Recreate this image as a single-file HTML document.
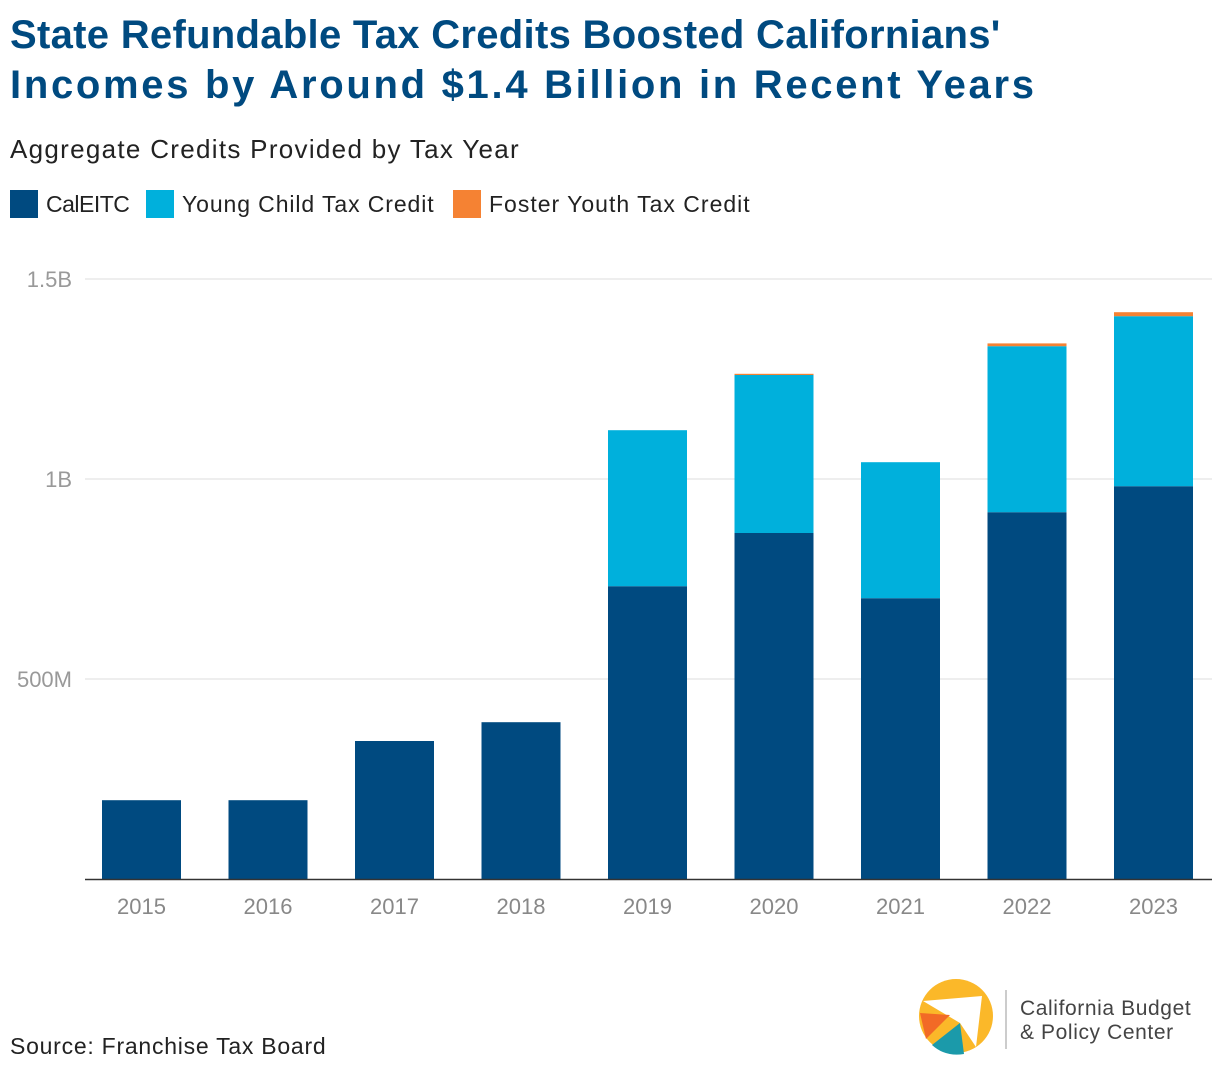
<!DOCTYPE html>
<html><head><meta charset="utf-8"><style>
body{margin:0;background:#fff;font-family:"Liberation Sans",sans-serif;}
#wrap{position:relative;width:1220px;height:1076px;overflow:hidden}
h1{position:absolute;left:10px;top:10px;margin:0;font-size:40px;line-height:50px;color:#004a80;font-weight:bold}
.sub{position:absolute;left:10px;top:134px;font-size:26px;color:#222;letter-spacing:1.3px}
.leg{position:absolute;top:190px;font-size:23px;color:#222;display:flex;align-items:center}
.sw{width:28px;height:28px;margin-right:8px;display:inline-block}
.src{position:absolute;left:10px;top:1033px;font-size:23px;color:#222;letter-spacing:0.75px}
</style></head><body><div id="wrap">
<h1><span style="letter-spacing:0.3px">State Refundable Tax Credits Boosted Californians'</span><br><span style="letter-spacing:2.7px">Incomes by Around $1.4 Billion in Recent Years</span></h1>
<div class="sub">Aggregate Credits Provided by Tax Year</div>
<div class="leg" style="left:10px;letter-spacing:-0.5px"><span class="sw" style="background:#004a80"></span>CalEITC</div>
<div class="leg" style="left:146px;letter-spacing:0.9px"><span class="sw" style="background:#00b0dc"></span>Young Child Tax Credit</div>
<div class="leg" style="left:453px;letter-spacing:1px"><span class="sw" style="background:#f58233"></span>Foster Youth Tax Credit</div>
<svg id="chart" width="1220" height="1076" style="position:absolute;left:0;top:0"></svg>
<div class="src">Source: Franchise Tax Board</div>
<svg width="300" height="90" style="position:absolute;left:910px;top:975px">
<circle cx="46" cy="41" r="37" fill="#fbb829"/>
<path d="M13,26 L72,21 L66,72 L50,48 Z" fill="#fff"/>
<path d="M10,38 L40,40 L16,64 Z" fill="#f26a26"/>
<path d="M22,70 L50,48 L54,79 Q35,82 22,70 Z" fill="#1b9aaa"/>
<line x1="96" y1="15" x2="96" y2="74" stroke="#bbb" stroke-width="1.5"/>
<text x="110" y="40" font-size="21" fill="#444" letter-spacing="0.6" font-family="Liberation Sans">California Budget</text>
<text x="110" y="64" font-size="21" fill="#444" letter-spacing="0.6" font-family="Liberation Sans">&amp; Policy Center</text>
</svg>
</div>
<script>
const years=["2015","2016","2017","2018","2019","2020","2021","2022","2023"];
const calEitc=[197,197,345,392,732,865,702,917,982];
const youngChild=[0,0,0,0,390,395,340,415,425];
const fosterYouth=[0,0,0,0,0,3,0,7,10];
const yTicks=[500,1000,1500];
const yTickLabels=["500M","1B","1.5B"];
const NS="http://www.w3.org/2000/svg";
const svg=document.getElementById('chart');
const y=v=>879-v*0.4;
const xc=i=>141.5+i*126.5;
const bw=79;
function mk(t,a){const e=document.createElementNS(NS,t);for(const k in a)e.setAttribute(k,a[k]);svg.appendChild(e);return e;}
yTicks.forEach((t,i)=>{
 const g=mk('line',{x1:85,x2:1212,y1:y(t),y2:y(t),stroke:'#ddd','stroke-width':1});
 
 
 const l=mk('text',{x:72,y:y(t)+8,'text-anchor':'end','font-size':22,fill:'#999','font-family':'Liberation Sans'});
 l.textContent=yTickLabels[i];
 
 
});
years.forEach((yr,i)=>{
 let base=0;
 [[calEitc,'#004a80','caleitc'],[youngChild,'#00b0dc','young-child'],[fosterYouth,'#f58233','foster-youth']].forEach(([arr,c,n])=>{
  const v=arr[i]; if(v<=0)return;
  const r=mk('rect',{x:xc(i)-bw/2,y:y(base+v),width:bw,height:v*0.4,fill:c});
  
  
  base+=v;
 });
 const t=mk('text',{x:xc(i),y:914,'text-anchor':'middle','font-size':22,fill:'#888','font-family':'Liberation Sans'});
 t.textContent=yr;
 
 
});
const ax=mk('line',{x1:85,x2:1212,y1:879.5,y2:879.5,stroke:'#333','stroke-width':1.5});


</script>
</body></html>
